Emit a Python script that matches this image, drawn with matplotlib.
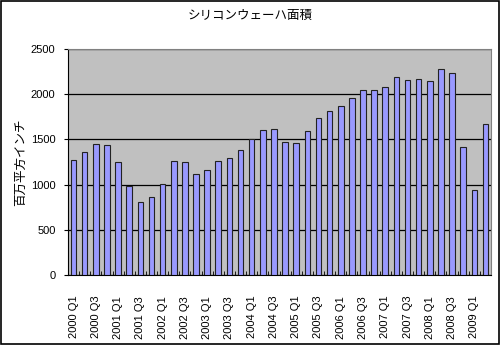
import numpy as np
import matplotlib.pyplot as plt
from matplotlib.patches import Rectangle

plt.rcParams['font.family'] = ['Liberation Sans', 'Noto Sans CJK JP']

years = list(range(2000, 2010))
quarters = ['Q1', 'Q2', 'Q3', 'Q4']
categories = ['%d %s' % (y, q) for y in years for q in quarters][:38]

# million square inches per quarter
area = [1275, 1360, 1450, 1440, 1245, 985, 808, 868, 1005, 1265,
        1250, 1120, 1165, 1265, 1290, 1385, 1505, 1605, 1615, 1475,
        1460, 1590, 1735, 1810, 1865, 1955, 2050, 2050, 2080, 2190,
        2160, 2165, 2150, 2280, 2230, 1420, 935, 1675]

fig = plt.figure(figsize=(5, 3.45), dpi=100)
ax = fig.add_axes([0.136, 0.203, 0.846, 0.655])
ax.set_facecolor('#c0c0c0')

ind = np.arange(len(area))
ax.bar(ind, area, 0.5, color='#9999ff', edgecolor='#222222', linewidth=0.8, zorder=3)

ax.set_ylim(0, 2500)
ax.set_xlim(-0.5, len(area) - 0.5)
ax.set_yticks(np.arange(0, 2501, 500))
ax.yaxis.grid(True, color='black', linewidth=0.9, zorder=1)
ax.set_axisbelow(True)

# labels every other quarter, tick marks between categories
ax.set_xticks(ind[::2])
ax.set_xticklabels(categories[::2], rotation=90, fontsize=8)
ax.set_xticks(ind[:-1] + 0.5, minor=True)
ax.tick_params(axis='x', which='major', length=0, pad=15)
ax.tick_params(axis='x', which='minor', length=3, direction='in', color='black')
ax.tick_params(axis='y', labelsize=8, length=3, direction='out', pad=6)

for side in ('top', 'right'):
    ax.spines[side].set_color('#808080')
for side in ('left', 'bottom'):
    ax.spines[side].set_color('black')

ax.set_ylabel('百万平方インチ', fontsize=9, labelpad=3)
fig.text(0.5, 0.955, 'シリコンウェーハ面積', ha='center', va='center', fontsize=9)

fig.patches.append(Rectangle((0.002, 0.003), 0.995, 0.994, transform=fig.transFigure,
                             fill=False, edgecolor='black', linewidth=1.2))

fig.savefig('out.png', dpi=100)
